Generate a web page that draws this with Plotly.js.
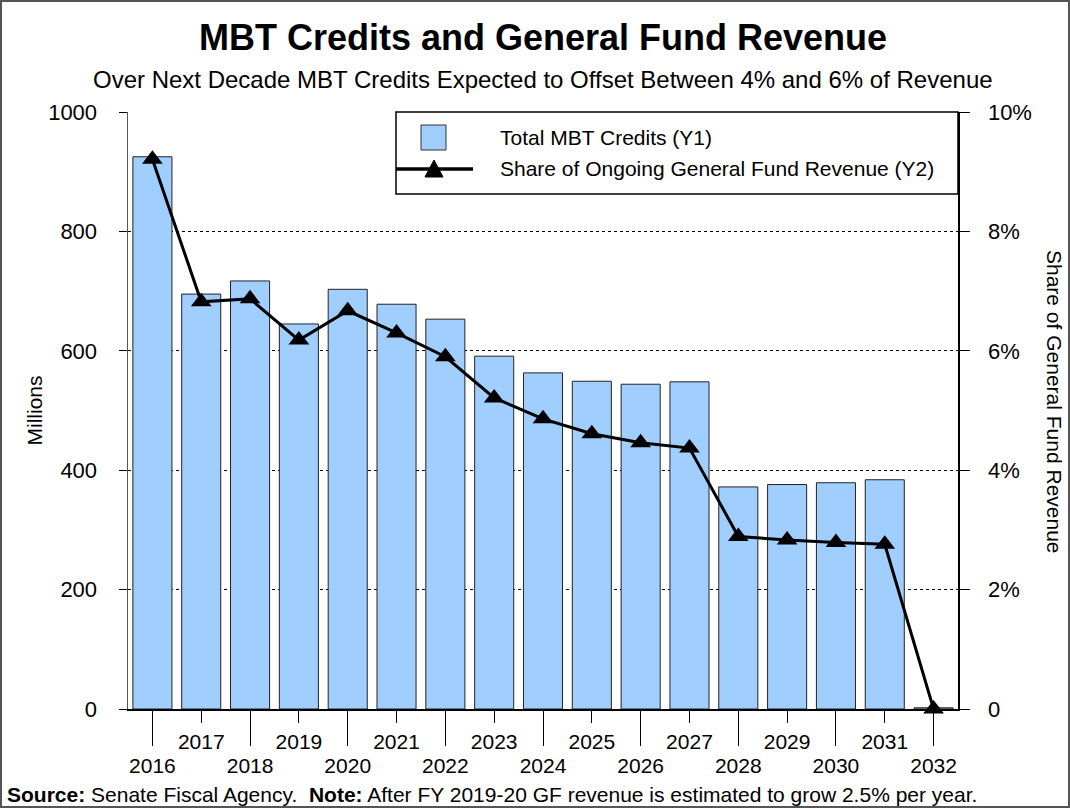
<!DOCTYPE html>
<html>
<head>
<meta charset="utf-8">
<script src="https://cdn.plot.ly/plotly-3.0.1.min.js"></script>
<style>html,body{margin:0;padding:0;background:#fff;}#chart{width:1070px;height:809px;}</style>
</head>
<body>
<div id="chart"></div>
<script>
// ---- data ----
const years = [2016,2017,2018,2019,2020,2021,2022,2023,2024,2025,2026,2027,2028,2029,2030,2031,2032];
const mbtCredits = [925,695,717,645,703,678,653,591,563,549,544,548,372,376,379,384,2]; // millions
const gfShare = [9.21,6.82,6.87,6.18,6.67,6.30,5.90,5.21,4.86,4.61,4.46,4.37,2.89,2.83,2.79,2.76,0]; // percent
const y1Ticks = [0,200,400,600,800,1000];
const y2Ticks = [0,2,4,6,8,10];
const y2TickText = ['0','2%','4%','6%','8%','10%'];
const oddYears = years.filter(y => y % 2 === 1);
const evenYears = years.filter(y => y % 2 === 0);

const FONT = 'Arial, "Liberation Sans", sans-serif';
const W = 1070, H = 809;
const M = {l:128, r:112, t:112, b:100};
const PW = W - M.l - M.r, PH = H - M.t - M.b;
const px = x => (x - M.l) / PW;          // pixel -> paper x
const py = y => (H - M.b - y) / PH;      // pixel -> paper y

const traces = [
  {
    type:'bar', x:years, y:mbtCredits, name:'Total MBT Credits (Y1)',
    marker:{color:'#A0CEFF', line:{color:'#222222', width:1}},
    hoverinfo:'x+y'
  },
  {
    type:'scatter', mode:'lines+markers', x:years, y:gfShare, yaxis:'y2',
    name:'Share of Ongoing General Fund Revenue (Y2)',
    line:{color:'#000', width:3},
    marker:{symbol:'triangle-up', size:18, color:'#000'},
    cliponaxis:false
  },
  { // carrier for secondary (even-year) x axis labels
    type:'scatter', mode:'markers', x:years, y:mbtCredits, xaxis:'x2',
    marker:{opacity:0}, hoverinfo:'skip', showlegend:false
  }
];

const layout = {
  width:W, height:H,
  margin:M,
  paper_bgcolor:'#fff', plot_bgcolor:'#fff',
  font:{family:FONT, color:'#000', size:21},
  showlegend:false,
  bargap:0.2,
  title:{
    text:'<b>MBT Credits and General Fund Revenue</b>',
    font:{size:36, family:FONT, color:'#000'},
    xref:'paper', x:0.5, xanchor:'center',
    yref:'container', y:1-37/H, yanchor:'middle'
  },
  xaxis:{
    range:[2015.5,2032.5], tickmode:'array', tickvals:oddYears, ticktext:oddYears.map(String),
    ticks:'outside', ticklen:12, tickwidth:1, tickcolor:'#000',
    showline:true, linecolor:'#000', linewidth:1.5,
    showgrid:false, zeroline:false, tickfont:{size:21}, ticklabelstandoff:1
  },
  xaxis2:{
    range:[2015.5,2032.5], overlaying:'x', anchor:'y', side:'bottom',
    tickmode:'array', tickvals:evenYears, ticktext:evenYears.map(String),
    ticks:'outside', ticklen:36, tickwidth:1, tickcolor:'#000',
    showline:false, showgrid:false, zeroline:false, tickfont:{size:21}, ticklabelstandoff:2
  },
  yaxis:{
    range:[0,1000], tickmode:'array', tickvals:y1Ticks,
    ticks:'outside', ticklen:8, tickcolor:'#000',
    showline:true, linecolor:'#555', linewidth:1.5,
    showgrid:true, gridcolor:'#000', griddash:'dot', gridwidth:1,
    zeroline:false, tickfont:{size:22}, ticklabelstandoff:17,
    title:{text:'Millions', font:{size:21}, standoff:0}
  },
  yaxis2:{
    range:[0,10], overlaying:'y', side:'right', tickmode:'array', tickvals:y2Ticks, ticktext:y2TickText,
    ticks:'outside', ticklen:10, tickcolor:'#000',
    showline:true, linecolor:'#000', linewidth:1.5,
    showgrid:false, zeroline:false, tickfont:{size:22}, ticklabelstandoff:14
  },
  annotations:[
    {text:'Over Next Decade MBT Credits Expected to Offset Between 4% and 6% of Revenue',
     xref:'paper', yref:'paper', x:0.5, y:py(80), xanchor:'center', yanchor:'middle',
     showarrow:false, font:{size:24}},
    {text:'Share of General Fund Revenue', textangle:90,
     xref:'paper', yref:'paper', x:px(1055), y:py(402), xanchor:'center', yanchor:'middle',
     showarrow:false, font:{size:21}},
    {text:'<b>Source:</b> Senate Fiscal Agency. &nbsp;<b>Note:</b> After FY 2019-20 GF revenue is estimated to grow 2.5% per year.',
     xref:'paper', yref:'paper', x:px(5), y:py(794), xanchor:'left', yanchor:'middle',
     showarrow:false, font:{size:21}},
    {text:'Total MBT Credits (Y1)', xref:'paper', yref:'paper', x:px(498), y:py(137),
     xanchor:'left', yanchor:'middle', showarrow:false, font:{size:21}},
    {text:'Share of Ongoing General Fund Revenue (Y2)', xref:'paper', yref:'paper', x:px(498), y:py(169),
     xanchor:'left', yanchor:'middle', showarrow:false, font:{size:21}}
  ],
  shapes:[
    // outer frame
    {type:'rect', xref:'paper', yref:'paper', x0:px(1), x1:px(W-1), y0:py(H-2), y1:py(1),
     line:{color:'#555', width:2}, fillcolor:'rgba(0,0,0,0)', layer:'above'},
    // legend box
    {type:'rect', xref:'paper', yref:'paper', x0:px(396), x1:1, y0:py(194), y1:1,
     line:{color:'#000', width:1.5}, fillcolor:'#fff', layer:'above'},
    // legend bar swatch
    {type:'rect', xref:'paper', yref:'paper', x0:px(421), x1:px(446), y0:py(150), y1:py(125),
     line:{color:'#333', width:1}, fillcolor:'#A0CEFF', layer:'above'},
    // legend line
    {type:'line', xref:'paper', yref:'paper', x0:px(396), x1:px(473), y0:py(169), y1:py(169),
     line:{color:'#000', width:3.5}, layer:'above'},
    // legend triangle
    {type:'path', xref:'paper', yref:'paper',
     path:`M ${px(425)} ${py(177)} L ${px(443)} ${py(177)} L ${px(434)} ${py(160)} Z`,
     line:{color:'#000', width:1}, fillcolor:'#000', layer:'above'}
  ]
};

Plotly.newPlot('chart', traces, layout, {displayModeBar:false, staticPlot:true});
</script>
</body>
</html>
